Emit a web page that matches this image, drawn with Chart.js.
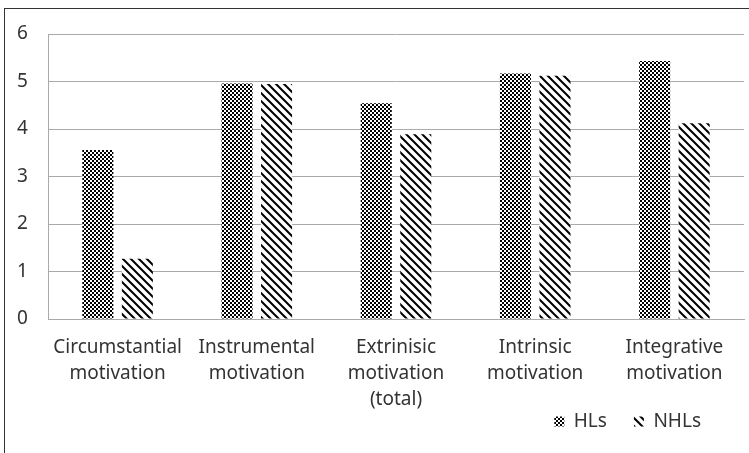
<!DOCTYPE html>
<html>
<head>
<meta charset="utf-8">
<script src="https://cdn.jsdelivr.net/npm/chart.js@4/dist/chart.umd.min.js"></script>
<style>
  body { margin: 0; background: #fff; }
  #wrap { width: 749px; height: 453px; }
</style>
</head>
<body>
<div id="wrap"><canvas id="chart" width="749" height="453"></canvas></div>
<script>
var categories = [
  ["Circumstantial", "motivation"],
  ["Instrumental", "motivation"],
  ["Extrinisic", "motivation", "(total)"],
  ["Intrinsic", "motivation"],
  ["Integrative", "motivation"]
];
var hlsValues = [3.56, 4.96, 4.54, 5.17, 5.43];
var nhlsValues = [1.27, 4.95, 3.89, 5.12, 4.12];
var yTicks = [0, 1, 2, 3, 4, 5, 6];

// checker pattern for HLs
function checker() {
  var c = document.createElement("canvas");
  c.width = 4; c.height = 4;
  var x = c.getContext("2d");
  x.fillStyle = "#fff";
  x.fillRect(0, 0, 4, 4);
  x.fillStyle = "#000";
  x.fillRect(0, 0, 2, 2);
  x.fillRect(2, 2, 2, 2);
  return x.createPattern(c, "repeat");
}

// diagonal stripes for NHLs
function stripes() {
  var c = document.createElement("canvas");
  c.width = 8; c.height = 8;
  var x = c.getContext("2d");
  x.fillStyle = "#fff";
  x.fillRect(0, 0, 8, 8);
  x.strokeStyle = "#000";
  x.lineWidth = 2;
  x.beginPath();
  x.moveTo(-2, -2); x.lineTo(10, 10);
  x.moveTo(-2, 6); x.lineTo(2, 10);
  x.moveTo(6, -2); x.lineTo(10, 2);
  x.stroke();
  return x.createPattern(c, "repeat");
}

var frame = {
  id: "frame",
  beforeLayout: function(chart) {
    var lg = chart.legend;
    if (lg && !lg._short) {
      var fit = lg.fit;
      lg.fit = function() { fit.call(this); this.height = 34; };
      lg._short = true;
    }
  },
  afterLayout: function(chart) {
    chart.legend.right = 728;
    chart.legend.top = 385;
  },
  beforeDraw: function(chart) {
    var ctx = chart.ctx;
    ctx.save();
    ctx.fillStyle = "#fff";
    ctx.fillRect(0, 0, chart.width, chart.height);
    ctx.strokeStyle = "#333";
    ctx.lineWidth = 1;
    ctx.strokeRect(4.5, 8.5, 900, 600);
    ctx.restore();
  }
};

var font = { family: "'Noto Sans', sans-serif", size: 19, lineHeight: 1.35 };

new Chart(document.getElementById("chart"), {
  type: "bar",
  data: {
    labels: categories,
    datasets: [
      { label: "HLs", data: hlsValues, backgroundColor: checker(), borderWidth: 0 },
      { label: "NHLs", data: nhlsValues, backgroundColor: stripes(), borderWidth: 0 }
    ]
  },
  options: {
    responsive: false,
    animation: false,
    categoryPercentage: 0.568,
    barPercentage: 0.785,
    layout: { padding: { left: 17, right: 5, top: 34, bottom: 5 } },
    plugins: {
      tooltip: { enabled: false },
      legend: {
        position: "bottom",
        align: "end",
        labels: {
          boxWidth: 10,
          boxHeight: 10,
          padding: 27,
          color: "#333",
          font: { family: "'Noto Sans', sans-serif", size: 19 }
        }
      }
    },
    scales: {
      x: {
        grid: { display: false, drawTicks: false },
        border: { color: "#aaa" },
        ticks: {
          color: "#333",
          font: font,
          padding: 16,
          maxRotation: 0,
          autoSkip: false
        },
        afterFit: function(s) { s.height = 95; }
      },
      y: {
        min: 0,
        max: 6,
        afterBuildTicks: function(s) {
          s.ticks = yTicks.map(function(v) { return { value: v }; });
        },
        grid: { color: "#aaa", drawTicks: false },
        border: { color: "#aaa" },
        ticks: {
          color: "#333",
          font: font,
          crossAlign: "far",
          padding: 10
        },
        afterFit: function(s) { s.width = 31; }
      }
    }
  },
  plugins: [frame]
});
</script>
</body>
</html>
